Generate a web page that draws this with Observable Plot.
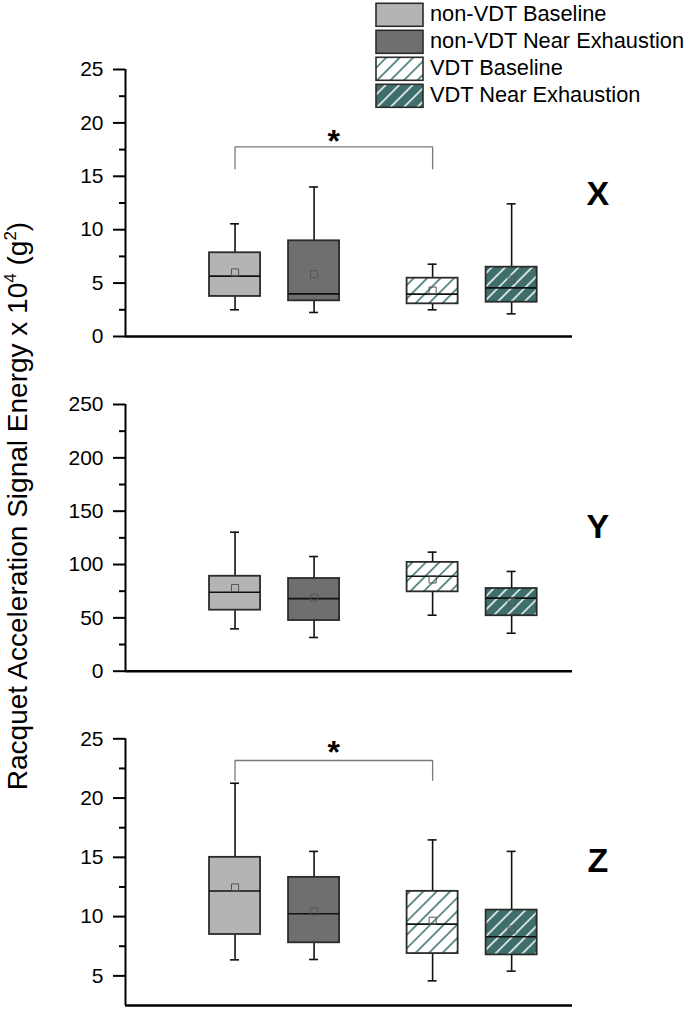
<!DOCTYPE html>
<html><head><meta charset="utf-8">
<script src="https://cdn.jsdelivr.net/npm/d3@7"></script>
<script src="https://cdn.jsdelivr.net/npm/@observablehq/plot@0.6"></script>
<style>
html,body{margin:0;padding:0;background:#fff;}
#chart{position:relative;width:688px;height:1009px;font-family:"Liberation Sans",Arial,sans-serif;}
#chart > svg{position:absolute;}
</style></head><body><div id="chart"></div>
<script>
// ---- categories ----
const groups = ["non-VDT Baseline", "non-VDT Near Exhaustion", "VDT Baseline", "VDT Near Exhaustion"];
const panelNames = ["X", "Y", "Z"];

// ---- X axis panel (x 10^4 g^2) ----
const xMin    = [2.5, 2.25, 2.5, 2.12];
const xQ1     = [3.75, 3.34, 3.06, 3.21];
const xMedian = [5.65, 4.0, 3.96, 4.56];
const xQ3     = [7.84, 8.96, 5.46, 6.49];
const xMax    = [10.55, 14.0, 6.77, 12.42];
const xMean   = [6.0, 5.83, 4.3, 5.34];

// ---- Y axis panel ----
const yMin    = [39.7, 31.6, 52.5, 35.6];
const yQ1     = [57.2, 47.5, 74.4, 52.0];
const yMedian = [74.0, 68.0, 89.0, 68.5];
const yQ3     = [89.0, 86.9, 102.0, 77.5];
const yMax    = [130.3, 107.5, 111.6, 93.5];
const yMean   = [78.0, 69.0, 86.0, 64.7];

// ---- Z axis panel ----
const zMin    = [6.35, 6.38, 4.58, 5.4];
const zQ1     = [8.49, 7.79, 6.88, 6.77];
const zMedian = [12.16, 10.24, 9.37, 8.3];
const zQ3     = [15.0, 13.31, 12.13, 10.55];
const zMax    = [21.25, 15.5, 16.47, 15.5];
const zMean   = [12.46, 10.43, 9.65, 8.9];

// ---- tick labels ----
const xyTicks = [0, 5, 10, 15, 20, 25];
const yTicks  = [0, 50, 100, 150, 200, 250];
const zTicks  = [5, 10, 15, 20, 25];
const xyMinor = [2.5, 7.5, 12.5, 17.5, 22.5];
const yMinor  = [25, 75, 125, 175, 225];
const zMinor  = [7.5, 12.5, 17.5, 22.5];

// ---- styling ----
const fills = ["#b4b4b4", "#6f6f6f", "url(#hatchLight)", "url(#hatchDark)"];
const teal = "#3e6f6c";
const slots = [1, 2, 3.5, 4.5];
const xDomain = [-0.386, 5.27];
const FONT = '"Liberation Sans", Arial, sans-serif';

const chart = document.getElementById("chart");

// pattern defs
const defs = d3.select(chart).append("svg").attr("width", 0).attr("height", 0).style("left", "0px").style("top", "0px");
const d = defs.append("defs");
const p1 = d.append("pattern").attr("id", "hatchLight").attr("patternUnits", "userSpaceOnUse")
  .attr("width", 9.5).attr("height", 9.5).attr("patternTransform", "rotate(45)");
p1.append("rect").attr("width", 9.5).attr("height", 9.5).attr("fill", "white");
p1.append("line").attr("x1", 4.75).attr("x2", 4.75).attr("y1", 0).attr("y2", 9.5).attr("stroke", "#3f7572").attr("stroke-width", 1.6);
const p2 = d.append("pattern").attr("id", "hatchDark").attr("patternUnits", "userSpaceOnUse")
  .attr("width", 9.5).attr("height", 9.5).attr("patternTransform", "rotate(45)");
p2.append("rect").attr("width", 9.5).attr("height", 9.5).attr("fill", teal);
p2.append("line").attr("x1", 4.75).attr("x2", 4.75).attr("y1", 0).attr("y2", 9.5).attr("stroke", "white").attr("stroke-width", 1.5);

function panel(cfg) {
  const rows = groups.map((g, i) => ({
    g, s: slots[i], min: cfg.data[0][i], q1: cfg.data[1][i], med: cfg.data[2][i],
    q3: cfg.data[3][i], max: cfg.data[4][i], mean: cfg.data[5][i], fill: fills[i]
  }));
  const hw = 0.323, cw = 0.057;
  const wk = {stroke: "#111", strokeWidth: 1.6};
  const marks = [
    Plot.ruleX(rows, {x: "s", y1: "q3", y2: "max", ...wk}),
    Plot.ruleX(rows, {x: "s", y1: "min", y2: "q1", ...wk}),
    Plot.ruleY(rows, {y: "max", x1: r => r.s - cw, x2: r => r.s + cw, ...wk}),
    Plot.ruleY(rows, {y: "min", x1: r => r.s - cw, x2: r => r.s + cw, ...wk}),
    ...rows.map(r => Plot.rect([r], {x1: q => q.s - hw, x2: q => q.s + hw, y1: "q1", y2: "q3", fill: r.fill, stroke: "#2b2b2b", strokeWidth: 1.8})),
    Plot.ruleY(rows, {y: "med", x1: r => r.s - hw, x2: r => r.s + hw, stroke: "#111", strokeWidth: 1.7}),
    Plot.dot(rows, {x: "s", y: "mean", symbol: "square", r: 4, stroke: "#555", fill: "none", strokeWidth: 1}),
    Plot.ruleX([xDomain[0]], {stroke: "black", strokeWidth: 2}),
    Plot.ruleY([cfg.domain[0]], {stroke: "black", strokeWidth: 2.6}),
    Plot.axisY({ticks: cfg.ticks, tickSize: 12, tickFormat: () => "", strokeWidth: 2, stroke: "black", label: null}),
    Plot.axisY({ticks: cfg.minor, tickSize: 6, tickFormat: () => "", strokeWidth: 2, stroke: "black", label: null}),
    Plot.text(cfg.ticks, {x: () => xDomain[0], y: v => v, text: v => String(v), dx: -22, textAnchor: "end", lineAnchor: "middle", fontSize: 21, fill: "black", fontFamily: FONT}),
    Plot.text([cfg.name], {x: () => 5.59, y: () => cfg.labelY, text: t => t, fontSize: 34, fontWeight: "bold", textAnchor: "middle", lineAnchor: "bottom", fill: "black", fontFamily: FONT})
  ];
  if (cfg.bracket) {
    const b = cfg.bracket;
    marks.push(Plot.line([[slots[0], b.low], [slots[0], b.high], [slots[2], b.high], [slots[2], b.low]],
      {x: p => p[0], y: p => p[1], stroke: "#7a7a7a", strokeWidth: 1.3}));
    marks.push(Plot.text(["*"], {x: () => (slots[0] + slots[2]) / 2, y: () => b.star, text: t => t, fontSize: 32, fontWeight: "bold", textAnchor: "middle", lineAnchor: "bottom", fill: "black", fontFamily: FONT}));
  }
  const svg = Plot.plot({
    width: 688, height: cfg.height,
    marginLeft: 125, marginRight: 116, marginTop: cfg.mt, marginBottom: cfg.mb,
    x: {domain: xDomain, axis: null},
    y: {domain: cfg.domain},
    style: {background: "transparent", overflow: "visible", fontFamily: FONT, color: "black"},
    marks
  });
  svg.style.position = "absolute";
  svg.style.left = "0px";
  svg.style.top = cfg.top + "px";
  chart.appendChild(svg);
}

panel({name: panelNames[0], top: 0, height: 350, mt: 69, mb: 14, domain: [0, 25], ticks: xyTicks, minor: xyMinor,
  data: [xMin, xQ1, xMedian, xQ3, xMax, xMean], labelY: 12.3, bracket: {low: 15.7, high: 17.76, star: 17.23}});
panel({name: panelNames[1], top: 350, height: 340, mt: 54, mb: 19.3, domain: [0, 250], ticks: yTicks, minor: yMinor,
  data: [yMin, yQ1, yMedian, yQ3, yMax, yMean], labelY: 124.4});
panel({name: panelNames[2], top: 690, height: 319, mt: 48.3, mb: 4, domain: [2.5, 25], ticks: zTicks, minor: zMinor,
  data: [zMin, zQ1, zMedian, zQ3, zMax, zMean], labelY: 13.8, bracket: {low: 21.5, high: 23.17, star: 23.0}});

// legend
const lg = d3.select(chart).append("svg").attr("width", 318).attr("height", 112)
  .style("left", "370px").style("top", "0px").style("overflow", "visible");
groups.forEach((g, i) => {
  const y0 = 3.3 + i * 27;
  lg.append("rect").attr("x", 6).attr("y", y0).attr("width", 47).attr("height", 23)
    .attr("fill", fills[i]).attr("stroke", "#2b2b2b").attr("stroke-width", 1.6);
  lg.append("text").attr("x", 60).attr("y", y0 + 17.8).attr("font-size", 21.8)
    .attr("font-family", FONT).attr("fill", "black").text(g);
});

// shared y-axis title
const tt = d3.select(chart).append("svg").attr("width", 60).attr("height", 1009)
  .style("left", "0px").style("top", "0px").style("overflow", "visible");
const t = tt.append("text").attr("transform", "translate(27,506) rotate(-90)")
  .attr("text-anchor", "middle").attr("font-family", FONT).attr("font-size", 28).attr("fill", "black");
t.append("tspan").text("Racquet Acceleration Signal Energy x 10");
t.append("tspan").attr("font-size", 17).attr("dy", -11).text("4");
t.append("tspan").attr("dy", 11).text(" (g");
t.append("tspan").attr("font-size", 17).attr("dy", -11).text("2");
t.append("tspan").attr("dy", 11).text(")");
</script></body></html>
